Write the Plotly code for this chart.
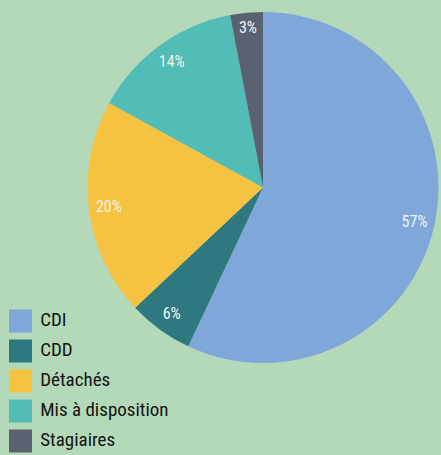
import plotly.graph_objects as go

categories = ["CDI", "CDD", "Détachés", "Mis à disposition", "Stagiaires"]
values = [57, 6, 20, 14, 3]
colors = ["#7fa7d9", "#2e7880", "#f5c242", "#52bdb6", "#5a6272"]

FONT = "Liberation Sans Narrow, Roboto Condensed, Roboto, sans-serif"
W, H = 441, 455
BG = "#b4d9b8"
pie_domain = dict(x=[87 / W, 439 / W], y=[92 / H, 443 / H])

fig = go.Figure()
# filled pie, no text
fig.add_trace(go.Pie(
    labels=categories, values=values, sort=False, direction="clockwise",
    rotation=0, marker=dict(colors=colors, line=dict(width=0)),
    textinfo="none", domain=pie_domain, showlegend=False,
    hoverinfo="label+percent",
))
# transparent ring carrying the percentage labels near the rim
fig.add_trace(go.Pie(
    labels=categories, values=values, sort=False, direction="clockwise",
    rotation=0, hole=0.77,
    marker=dict(colors=["rgba(0,0,0,0)"] * len(values), line=dict(width=0)),
    texttemplate="%{value}%", textposition="inside",
    insidetextorientation="horizontal",
    textfont=dict(family=FONT, size=16, color="#eef3f3"),
    domain=pie_domain, showlegend=False, hoverinfo="skip",
))

# legend drawn as a scatter of squares with labels
leg_x = [20.5] * len(categories)
leg_y = [321 + 30 * i for i in range(len(categories))]
fig.add_trace(go.Scatter(
    x=leg_x, y=leg_y, mode="markers+text", text=[" " + c for c in categories],
    textposition="middle right",
    textfont=dict(family=FONT, size=19, color="#141414"),
    marker=dict(symbol="square", size=23, color=colors, line=dict(width=0)),
    xaxis="x", yaxis="y", showlegend=False, hoverinfo="skip", cliponaxis=False,
))

fig.update_layout(
    width=W, height=H, margin=dict(l=0, r=0, t=0, b=0),
    paper_bgcolor=BG, plot_bgcolor="rgba(0,0,0,0)",
    xaxis=dict(range=[0, W], visible=False, domain=[0, 1], fixedrange=True),
    yaxis=dict(range=[H, 0], visible=False, domain=[0, 1], fixedrange=True),
)

fig.write_html(
    "out.html",
    config={"displayModeBar": False},
    post_script="document.body.style.margin='0';document.body.style.overflow='hidden';"
                "document.body.style.background='" + BG + "';",
)
